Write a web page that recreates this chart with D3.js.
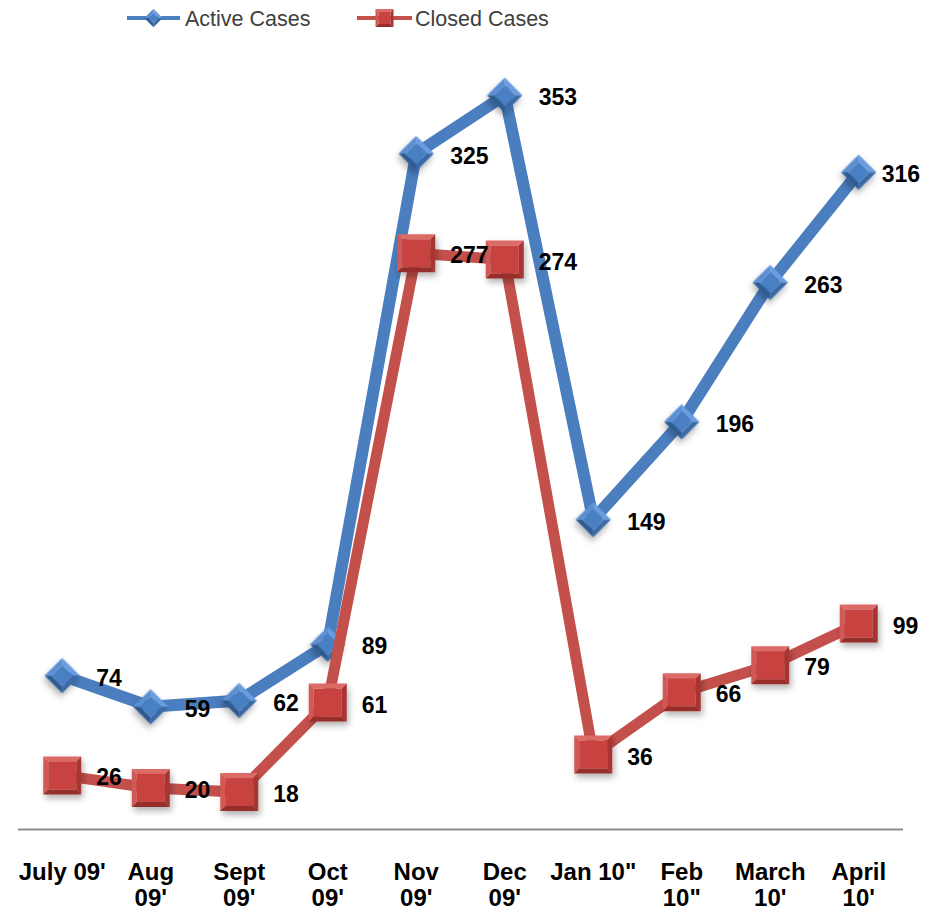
<!DOCTYPE html>
<html>
<head>
<meta charset="utf-8">
<style>
  body { margin: 0; background: #fff; }
  svg { display: block; }
</style>
</head>
<body>
<div id="chart"></div>
<script src="https://cdn.jsdelivr.net/npm/d3@7/dist/d3.min.js"></script>
<script>
    // data
    var months = [["July 09'"], ["Aug", "09'"], ["Sept", "09'"], ["Oct", "09'"], ["Nov", "09'"],
                  ["Dec", "09'"], ['Jan 10"'], ["Feb", '10"'], ["March", "10'"], ["April", "10'"]];
    var activeCases = [74, 59, 62, 89, 325, 353, 149, 196, 263, 316];
    var closedCases = [26, 20, 18, 61, 277, 274, 36, 66, 79, 99];

    var width = 938, height = 912;

    const svg = d3.select("#chart").append("svg")
        .attr("width", width)
        .attr("height", height);

    // soft shadow under the markers
    const defs = svg.append("defs");
    defs.append("filter")
        .attr("id", "shadow")
        .attr("x", "-50%").attr("y", "-50%")
        .attr("width", "200%").attr("height", "200%")
        .append("feDropShadow")
        .attr("dx", 2).attr("dy", 4)
        .attr("stdDeviation", 3)
        .attr("flood-color", "#000")
        .attr("flood-opacity", 0.3);

    const x = d3.scaleBand()
        .domain(d3.range(months.length))
        .range([18, 903]);

    const y = d3.scaleLinear()
        .domain([0, 400])
        .range([829.5, 829.5 - 400 * 2.08]);

    const cx = i => x(i) + x.bandwidth() / 2;

    // category axis
    svg.append("line")
        .attr("x1", 18).attr("x2", 903)
        .attr("y1", 829.5).attr("y2", 829.5)
        .attr("stroke", "#8c8c8c")
        .attr("stroke-width", 2);

    const ticks = svg.append("g")
        .attr("font-family", "Liberation Sans, Arial, sans-serif")
        .attr("font-weight", "bold")
        .attr("font-size", "24px")
        .attr("fill", "#000")
        .attr("text-anchor", "middle");

    ticks.selectAll("text")
        .data(months)
        .enter().append("text")
        .attr("x", (d, i) => cx(i))
        .attr("y", 880)
        .each(function (d) {
            const t = d3.select(this);
            d.forEach((line, k) => {
                t.append("tspan")
                    .attr("x", t.attr("x"))
                    .attr("dy", k === 0 ? 0 : 26)
                    .text(line);
            });
        });

    // bevelled marker: square seen from above like a flat pyramid
    function bevel(g, s, b, c) {
        const h = s / 2, k = h - b;
        const faces = [
            [[-h, -h], [h, -h], [k, -k], [-k, -k], c.top],
            [[-h, -h], [-k, -k], [-k, k], [-h, h], c.left],
            [[h, -h], [h, h], [k, k], [k, -k], c.right],
            [[-h, h], [-k, k], [k, k], [h, h], c.bottom]
        ];
        faces.forEach(f => {
            g.append("polygon")
                .attr("points", f.slice(0, 4).map(p => p.join(",")).join(" "))
                .attr("fill", f[4]);
        });
        g.append("rect")
            .attr("x", -k).attr("y", -k)
            .attr("width", 2 * k).attr("height", 2 * k)
            .attr("fill", c.face);
    }

    var series = [
        { name: "Active Cases", values: activeCases, color: "#4a7ebf", width: 12,
          marker: { size: 25, bevel: 5, rotate: 45,
                    face: "#4a80c4", top: "#6b9de0", left: "#5a8fd2", right: "#3a6aa6", bottom: "#2f5b92" } },
        { name: "Closed Cases", values: closedCases, color: "#c4504c", width: 11,
          marker: { size: 38, bevel: 5, rotate: 0,
                    face: "#c8423f", top: "#dc6a66", left: "#d25854", right: "#a83532", bottom: "#962d2a" } }
    ];

    const line = d3.line()
        .x((d, i) => cx(i))
        .y(d => y(d));

    series.forEach(s => {
        svg.append("path")
            .datum(s.values)
            .attr("fill", "none")
            .attr("stroke", s.color)
            .attr("stroke-width", s.width)
            .attr("stroke-linejoin", "miter")
            .attr("d", line);

        svg.append("g").selectAll("g")
            .data(s.values)
            .enter().append("g")
            .attr("filter", "url(#shadow)")
            .attr("transform", (d, i) => `translate(${cx(i)},${y(d)}) rotate(${s.marker.rotate})`)
            .each(function () {
                bevel(d3.select(this), s.marker.size, s.marker.bevel, s.marker);
            });
    });

    // data labels, right of each point; pushed back inside the right edge
    series.forEach(s => {
        svg.append("g")
            .attr("font-family", "Liberation Sans, Arial, sans-serif")
            .attr("font-weight", "bold")
            .attr("font-size", "23px")
            .attr("fill", "#000")
            .selectAll("text")
            .data(s.values)
            .enter().append("text")
            .attr("y", d => y(d) + 2)
            .attr("dy", "0.35em")
            .text(d => d)
            .attr("x", function (d, i) {
                const w = this.getComputedTextLength();
                return Math.min(cx(i) + 34, 920 - w);
            });
    });

    // legend
    const legend = svg.append("g")
        .attr("font-family", "Liberation Sans, Arial, sans-serif")
        .attr("font-size", "21.5px")
        .attr("fill", "#404040");

    var legendX = [[127, 180, 185], [357, 412, 415]];
    series.forEach((s, j) => {
        const lx = legendX[j];
        legend.append("line")
            .attr("x1", lx[0]).attr("x2", lx[1])
            .attr("y1", 18).attr("y2", 18)
            .attr("stroke", s.color)
            .attr("stroke-width", 4);
        const m = legend.append("g")
            .attr("transform", `translate(${(lx[0] + lx[1]) / 2},18) rotate(${s.marker.rotate})`);
        bevel(m, j === 0 ? 13 : 18, 3, s.marker);
        legend.append("text")
            .attr("x", lx[2])
            .attr("y", 18)
            .attr("dy", "0.35em")
            .text(s.name);
    });
</script>
</body>
</html>
